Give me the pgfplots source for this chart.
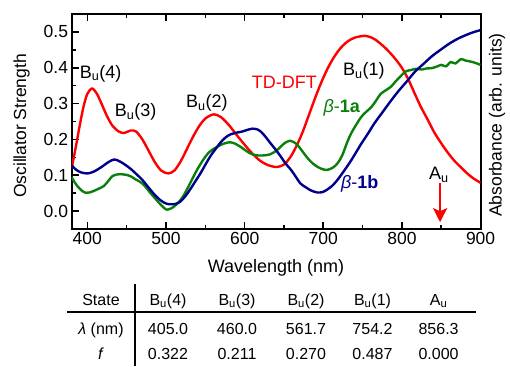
\documentclass[border=0pt]{standalone}
\usepackage{fontspec}
\setmainfont{Liberation Sans}
\usepackage{pgfplots}
\pgfplotsset{compat=1.18}
\usetikzlibrary{arrows.meta}
\definecolor{cred}{RGB}{255,0,0}
\definecolor{cgreen}{RGB}{10,128,10}
\definecolor{cblue}{RGB}{0,0,140}
\newcommand{\Bu}[1]{B\textsubscript{u}(#1)}
\begin{document}
\begin{tikzpicture}
\path (-71.6pt,-137pt) rectangle (438.4pt,229pt);
\begin{axis}[
  scale only axis, width=409pt, height=215pt,
  at={(0,0)}, anchor=south west,
  xmin=380, xmax=900, ymin=-0.05, ymax=0.55,
  xtick={400,500,600,700,800,900}, minor x tick num=1,
  ytick={0,0.1,0.2,0.3,0.4,0.5}, minor y tick num=1,
  xtick pos=both, ytick pos=left,
  tick align=inside,
  major tick length=7pt, minor tick length=4pt,
  every tick/.style={black, line width=1.6pt},
  axis line style={line width=2pt},
  tick label style={font=\fontsize{17.5}{20}\selectfont},
  xticklabel style={/pgf/number format/assume math mode=true,/pgf/number format/set thousands separator={}},
  yticklabel style={/pgf/number format/assume math mode=true,/pgf/number format/fixed,/pgf/number format/fixed zerofill,/pgf/number format/precision=1},
  clip=true,
]
\addplot[cred, line width=2.4pt, smooth] coordinates {
(380,0.120) (385,0.175) (390,0.235) (395,0.290) (400,0.327) (406,0.342) (412,0.328) (418,0.300) (425,0.265) (432,0.238) (440,0.222) (447,0.218) (455,0.225) (462,0.222) (470,0.200) (478,0.168) (486,0.136) (494,0.113) (503,0.105) (511,0.114) (519,0.140) (527,0.175) (535,0.210) (543,0.240) (551,0.260) (561,0.270) (570,0.262) (580,0.240) (590,0.212) (600,0.185) (610,0.160) (620,0.140) (630,0.128) (641,0.123) (650,0.130) (658,0.150) (666,0.182) (674,0.222) (682,0.270) (690,0.318) (698,0.362) (706,0.400) (714,0.431) (722,0.455) (730,0.472) (740,0.484) (754,0.489) (765,0.480) (777,0.459) (788,0.434) (799,0.403) (808,0.368) (816,0.329) (824,0.291) (833,0.254) (841,0.220) (850,0.189) (858,0.164) (866,0.142) (875,0.122) (883,0.105) (891,0.091) (900,0.079)
};
\addplot[cgreen, line width=2.4pt, smooth] coordinates {
(380,0.095) (384,0.080) (388,0.068) (393,0.057) (398,0.051) (403,0.052) (408,0.056) (414,0.062) (421,0.070) (427,0.085) (432,0.098) (437,0.102) (442,0.103) (450,0.101) (456,0.096) (461,0.089) (466,0.083) (470,0.077) (475,0.065) (480,0.051) (486,0.036) (492,0.021) (497,0.010) (501,0.004) (506,0.007) (511,0.014) (517,0.027) (522,0.042) (528,0.066) (534,0.092) (540,0.117) (547,0.142) (553,0.160) (558,0.170) (564,0.178) (570,0.185) (576,0.190) (582,0.192) (588,0.188) (595,0.179) (602,0.168) (608,0.160) (614,0.156) (620,0.155) (627,0.156) (633,0.159) (640,0.168) (646,0.180) (651,0.190) (657,0.196) (662,0.193) (667,0.185) (673,0.168) (680,0.148) (686,0.134) (693,0.123) (699,0.117) (705,0.115) (712,0.121) (718,0.133) (724,0.155) (730,0.190) (735,0.215) (741,0.238) (748,0.262) (754,0.276) (761,0.290) (767,0.308) (773,0.327) (780,0.338) (786,0.347) (792,0.362) (799,0.378) (805,0.390) (812,0.394) (818,0.397) (825,0.395) (831,0.398) (838,0.399) (844,0.403) (850,0.408) (856,0.404) (862,0.416) (868,0.412) (875,0.424) (881,0.420) (888,0.417) (894,0.413) (900,0.408)
};
\addplot[cblue, line width=2.4pt, smooth] coordinates {
(380,0.128) (386,0.115) (392,0.108) (400,0.105) (407,0.109) (413,0.116) (420,0.126) (427,0.137) (434,0.144) (440,0.140) (447,0.131) (455,0.118) (462,0.104) (470,0.087) (477,0.068) (485,0.047) (492,0.032) (499,0.022) (505,0.019) (512,0.020) (518,0.026) (524,0.040) (530,0.058) (537,0.082) (544,0.106) (551,0.133) (557,0.155) (564,0.176) (570,0.193) (576,0.206) (582,0.214) (590,0.219) (597,0.222) (604,0.227) (610,0.230) (616,0.228) (621,0.221) (627,0.206) (633,0.189) (640,0.170) (646,0.152) (652,0.133) (659,0.115) (665,0.096) (671,0.077) (678,0.066) (684,0.058) (692,0.052) (699,0.053) (705,0.060) (712,0.072) (718,0.087) (725,0.108) (735,0.140) (748,0.187) (757,0.217) (765,0.245) (775,0.275) (786,0.308) (796,0.336) (807,0.364) (817,0.390) (828,0.412) (838,0.432) (849,0.450) (860,0.467) (871,0.481) (880,0.490) (888,0.497) (895,0.502) (900,0.505)
};
\begin{scope}[every node/.style={font=\fontsize{18}{20}\selectfont, anchor=base, inner sep=0pt}]
\node at (axis cs:417,0.371) {\Bu{4}};
\node at (axis cs:461.5,0.263) {\Bu{3}};
\node at (axis cs:552,0.288) {\Bu{2}};
\node[text=cred] at (axis cs:650.4,0.343) {TD-DFT};
\node at (axis cs:751.6,0.377) {\Bu{1}};
\node[text=cgreen] at (axis cs:723.5,0.274) {\textit{β}-\textbf{1a}};
\node[text=cblue] at (axis cs:746.4,0.064) {\textit{β}-\textbf{1b}};
\node at (axis cs:847,0.087) {A\textsubscript{u}};
\end{scope}
\draw[cred, line width=2.4pt, -{Stealth[length=14pt,width=14pt,inset=3pt]}] (axis cs:848.5,0.078) -- (axis cs:848.5,-0.031);
\end{axis}
\node[rotate=90, font=\fontsize{17.5}{20}\selectfont] at (-50pt,103pt) {Oscillator Strength};
\node[rotate=90, font=\fontsize{17.5}{20}\selectfont] at (425.4pt,104pt) {Absorbance (arb. units)};
\node[font=\fontsize{18}{20}\selectfont] at (204.4pt,-39pt) {Wavelength (nm)};
\begin{scope}[every node/.style={font=\fontsize{16}{18}\selectfont, anchor=base, inner sep=0pt}]
\node at (29.4pt,-76pt) {State};
\node at (96.4pt,-76pt) {\Bu{4}};
\node at (165.4pt,-76pt) {\Bu{3}};
\node at (234.4pt,-76pt) {\Bu{2}};
\node at (300.9pt,-76pt) {\Bu{1}};
\node at (367pt,-76pt) {A\textsubscript{u}};
\node at (29.4pt,-105pt) {\textit{λ} (nm)};
\node at (96.4pt,-105pt) {405.0};
\node at (165.4pt,-105pt) {460.0};
\node at (234.4pt,-105pt) {561.7};
\node at (300.9pt,-105pt) {754.2};
\node at (367pt,-105pt) {856.3};
\node at (29.4pt,-130pt) {\textit{f}};
\node at (96.4pt,-130pt) {0.322};
\node at (165.4pt,-130pt) {0.211};
\node at (234.4pt,-130pt) {0.270};
\node at (300.9pt,-130pt) {0.487};
\node at (367pt,-130pt) {0.000};
\end{scope}
\draw[line width=1.8pt] (-4.6pt,-83pt) -- (404.4pt,-83pt);
\draw[line width=1.6pt] (63.4pt,-55pt) -- (63.4pt,-137pt);
\end{tikzpicture}
\end{document}
